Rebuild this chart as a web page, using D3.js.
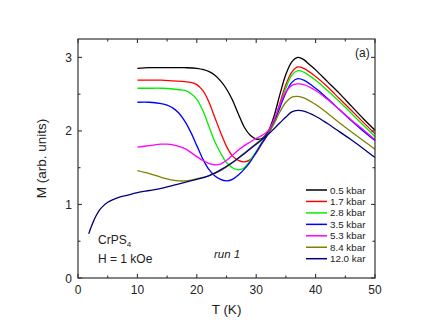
<!DOCTYPE html>
<meta charset="utf-8">
<style>
body { margin: 0; background: #fff; }
text { font-family: "Liberation Sans", Arial, sans-serif; fill: #222; }
.curve { fill: none; stroke-width: 1.3; }
.frame { fill: none; stroke: #333; stroke-width: 1.2; }
.tick { stroke: #333; stroke-width: 1.1; }
</style>
<svg width="436" height="333"></svg>
<script src="https://d3js.org/d3.v7.min.js"></script>
<script>

// pressure labels as in the legend
var labels = ["0.5 kbar", "1.7 kbar", "2.8 kbar", "3.5 kbar", "5.3 kbar", "8.4 kbar", "12.0 kar"];
var colors = ["#000000", "#ff0000", "#00ee00", "#0000ff", "#ff00ff", "#808000", "#000080"];

// temperature (K) and magnetisation (arb. units), one pair per curve
var t05 = [10,12,14,16,18,20,22,23,24,25,26,27,28,29,30,31,32,33,34,35,36,37,38,39,40,42,44,46,48,50];
var m05 = [2.85,2.86,2.86,2.86,2.86,2.85,2.81,2.76,2.68,2.57,2.42,2.23,2.05,1.94,1.89,1.9,1.99,2.2,2.5,2.77,2.94,3.0,2.97,2.9,2.83,2.67,2.51,2.34,2.17,2.01];

var t17 = [10,12,14,16,18,19,20,21,22,23,24,25,26,27,28,29,30,31,32,33,34,35,36,37,38,40,42,44,46,48,50];
var m17 = [2.69,2.69,2.69,2.68,2.67,2.66,2.63,2.55,2.4,2.19,1.98,1.79,1.66,1.6,1.58,1.61,1.7,1.83,1.96,2.13,2.38,2.63,2.8,2.87,2.85,2.74,2.6,2.44,2.28,2.12,1.96];

var t28 = [10,12,14,16,17,18,19,20,21,22,23,24,25,26,27,28,29,30,31,32,33,34,35,36,37,38,40,42,44,46,48,50];
var m28 = [2.58,2.58,2.58,2.57,2.56,2.55,2.51,2.43,2.28,2.07,1.86,1.7,1.57,1.5,1.47,1.5,1.6,1.72,1.85,1.96,2.12,2.35,2.58,2.76,2.82,2.8,2.69,2.55,2.4,2.24,2.08,1.92];

var t35 = [10,12,14,15,16,17,18,19,20,21,22,23,24,25,26,27,28,29,30,31,32,33,34,35,36,37,38,40,42,44,46,48,50];
var m35 = [2.39,2.39,2.37,2.35,2.31,2.24,2.13,1.98,1.8,1.62,1.48,1.39,1.34,1.32,1.34,1.4,1.48,1.58,1.71,1.84,1.96,2.12,2.32,2.52,2.66,2.71,2.69,2.58,2.44,2.29,2.14,2.0,1.87];

var t53 = [10,12,14,15,16,18,20,21,22,23,24,25,26,27,28,29,30,31,32,33,34,35,36,37,38,40,42,44,46,48,50];
var m53 = [1.78,1.8,1.82,1.82,1.81,1.76,1.65,1.6,1.56,1.54,1.55,1.6,1.67,1.74,1.8,1.85,1.9,1.94,2.0,2.15,2.36,2.53,2.62,2.64,2.63,2.55,2.43,2.29,2.15,2.02,1.88];

var t84 = [10,12,14,16,17,18,19,20,22,24,26,28,30,32,33,34,35,36,37,38,40,42,44,46,48,50];
var m84 = [1.46,1.42,1.37,1.33,1.32,1.32,1.33,1.35,1.39,1.46,1.57,1.7,1.83,1.96,2.1,2.26,2.39,2.46,2.47,2.45,2.36,2.24,2.11,1.99,1.87,1.75];

var t120 = [1.8,2.2,2.6,3,3.5,4,5,6,7,8,10,12,14,16,18,20,22,24,26,28,30,32,33,34,35,36,37,38,40,42,44,46,48,50];
var m120 = [0.6,0.69,0.77,0.84,0.91,0.96,1.03,1.07,1.1,1.12,1.16,1.19,1.22,1.26,1.3,1.34,1.39,1.47,1.57,1.69,1.82,1.95,2.03,2.11,2.19,2.26,2.28,2.27,2.2,2.1,1.99,1.88,1.76,1.64];

var xTicks = [0, 10, 20, 30, 40, 50];
var yTicks = [0, 1, 2, 3];

var temps = [t05, t17, t28, t35, t53, t84, t120];
var mags = [m05, m17, m28, m35, m53, m84, m120];

var svg = d3.select("svg");
var margin = {top: 39, right: 61, bottom: 55, left: 78},
    w = 436 - margin.left - margin.right,
    h = 333 - margin.top - margin.bottom;

var x = d3.scaleLinear().domain([0, 50]).range([margin.left, margin.left + w]);
var y = d3.scaleLinear().domain([0, 3.25]).range([margin.top + h, margin.top]);

var line = d3.line()
    .x(function(d) { return x(d[0]); })
    .y(function(d) { return y(d[1]); })
    .curve(d3.curveCatmullRom.alpha(0.5));

var plot = svg.append("g");
temps.forEach(function(ts, i) {
  var pts = ts.map(function(t, j) { return [t, mags[i][j]]; });
  plot.append("path")
      .datum(pts)
      .attr("class", "curve")
      .attr("stroke", colors[i])
      .attr("d", line);
});

// frame
svg.append("rect")
    .attr("class", "frame")
    .attr("x", x(0)).attr("y", y(3.25))
    .attr("width", x(50) - x(0)).attr("height", y(0) - y(3.25));

// inward ticks on all four sides
var ticks = svg.append("g");
d3.range(0, 50.01, 5).forEach(function(v) {
  var len = v % 10 === 0 ? 4 : 2.5;
  ticks.append("line").attr("class", "tick")
      .attr("x1", x(v)).attr("x2", x(v)).attr("y1", y(0)).attr("y2", y(0) - len);
  ticks.append("line").attr("class", "tick")
      .attr("x1", x(v)).attr("x2", x(v)).attr("y1", y(3.25)).attr("y2", y(3.25) + len);
});
d3.range(0, 3.01, 0.5).forEach(function(v) {
  var len = v % 1 === 0 ? 4 : 2.5;
  ticks.append("line").attr("class", "tick")
      .attr("x1", x(0)).attr("x2", x(0) + len).attr("y1", y(v)).attr("y2", y(v));
  ticks.append("line").attr("class", "tick")
      .attr("x1", x(50)).attr("x2", x(50) - len).attr("y1", y(v)).attr("y2", y(v));
});

svg.selectAll(".xl").data(xTicks).enter().append("text")
    .attr("x", function(d) { return x(d); })
    .attr("y", y(0) + 16)
    .attr("text-anchor", "middle")
    .attr("font-size", 12)
    .text(function(d) { return d; });

svg.selectAll(".yl").data(yTicks).enter().append("text")
    .attr("x", x(0) - 6)
    .attr("y", function(d) { return y(d) + 4.5; })
    .attr("text-anchor", "end")
    .attr("font-size", 12)
    .text(function(d) { return d; });

svg.append("text")
    .attr("x", x(25)).attr("y", 314)
    .attr("text-anchor", "middle")
    .attr("font-size", 13.5)
    .text("T (K)");

svg.append("text")
    .attr("transform", "translate(46," + y(1.625) + ") rotate(-90)")
    .attr("text-anchor", "middle")
    .attr("font-size", 13.5)
    .text("M (arb. units)");

svg.append("text")
    .attr("x", 355).attr("y", 57)
    .attr("font-size", 12)
    .text("(a)");

var crps = svg.append("text")
    .attr("x", 98).attr("y", 244)
    .attr("font-size", 12);
crps.append("tspan").text("CrPS");
crps.append("tspan").attr("font-size", 8).attr("dy", 3).text("4");

svg.append("text")
    .attr("x", 98).attr("y", 263)
    .attr("font-size", 12)
    .text("H = 1 kOe");

svg.append("text")
    .attr("x", 214).attr("y", 258)
    .attr("font-size", 11.5)
    .attr("font-style", "italic")
    .text("run 1");

// legend
var leg = svg.append("g");
labels.forEach(function(lab, i) {
  var ly = 190 + i * 11.45;
  leg.append("line")
      .attr("x1", 306).attr("x2", 327)
      .attr("y1", ly).attr("y2", ly)
      .attr("stroke", colors[i]).attr("stroke-width", 1.5);
  leg.append("text")
      .attr("x", 330).attr("y", ly + 3.5)
      .attr("font-size", 9.8)
      .text(lab);
});

</script>
